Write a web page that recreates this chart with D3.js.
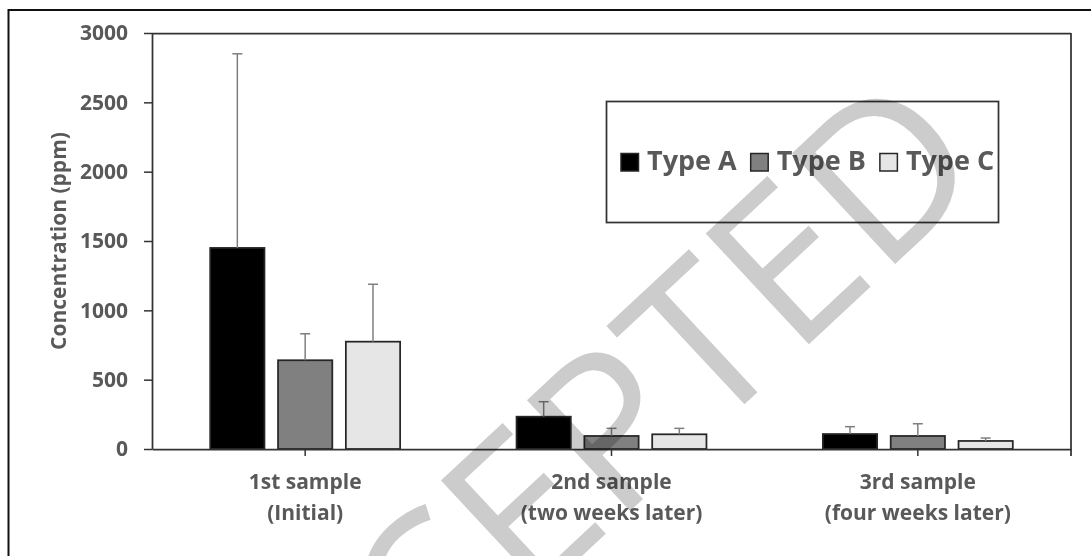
<!DOCTYPE html>
<html>
<head>
<meta charset="utf-8">
<script src="https://cdn.jsdelivr.net/npm/d3@7"></script>
<style>
  html, body { margin: 0; padding: 0; background: #fff; }
  svg { display: block; }
  text { font-family: "Open Sans", sans-serif; }
</style>
</head>
<body>
<svg id="chart" width="1091" height="556"></svg>
<script>
// ---- data ----
const categories = ["1st sample", "2nd sample", "3rd sample"];
const subLabels = ["(Initial)", "(two weeks later)", "(four weeks later)"];
const series = ["Type A", "Type B", "Type C"];
const typeA = [1450, 233, 108];
const typeAErr = [1400, 108, 53];
const typeB = [640, 94, 94];
const typeBErr = [191, 55, 88];
const typeC = [774, 106, 58];
const typeCErr = [414, 43, 21];
const yTicks = [0, 500, 1000, 1500, 2000, 2500, 3000];
const yTitle = "Concentration (ppm)";
const watermark = "ACCEPTED";

(function () {
const seriesValues = [typeA, typeB, typeC];
const seriesErrors = [typeAErr, typeBErr, typeCErr];
const colors = ["#000000", "#808080", "#e6e6e6"];

const rows = [];
categories.forEach((c, i) => {
  series.forEach((s, j) => {
    rows.push({ cat: c, ser: s, value: seriesValues[j][i], err: seriesErrors[j][i], color: colors[j] });
  });
});

// ---- layout ----
const svg = d3.select("#chart");
const pL = 152, pR = 1071, pT = 33, pB = 449;
const textColor = "#595959";
const lineColor = "#333333";

const y = d3.scaleLinear().domain([0, 3000]).range([pB, pT]);
const x0 = d3.scaleBand().domain(categories).range([pL, pR]).paddingInner(0.38).paddingOuter(0.19);
const x1 = d3.scaleBand().domain(series).range([0, x0.bandwidth()]).paddingInner(0.2);

// outer frame
svg.append("rect").attr("x", 8.5).attr("y", 10).attr("width", 1100).attr("height", 600)
  .attr("fill", "none").attr("stroke", "#111").attr("stroke-width", 2);

// plot box top & right
svg.append("line").attr("x1", pL).attr("x2", pR).attr("y1", pT + 0.5).attr("y2", pT + 0.5)
  .attr("stroke", lineColor).attr("stroke-width", 1.75);
svg.append("line").attr("x1", pR).attr("x2", pR).attr("y1", pT).attr("y2", pB + 7)
  .attr("stroke", lineColor).attr("stroke-width", 1.75);

// y axis
const yAxis = svg.append("g").attr("transform", `translate(${pL},0)`)
  .call(d3.axisLeft(y).tickValues(yTicks).tickFormat(d3.format("d"))
    .tickSize(8).tickSizeOuter(0).tickPadding(16));
yAxis.select(".domain").attr("stroke", lineColor).attr("stroke-width", 1.75);
yAxis.selectAll(".tick line").attr("stroke", lineColor).attr("stroke-width", 1.5);
yAxis.selectAll(".tick text").attr("fill", textColor).attr("font-size", 21)
  .attr("font-weight", "bold").attr("font-family", "Open Sans, sans-serif");

// bars
const g = svg.append("g");
g.selectAll("rect.bar").data(rows).join("rect").attr("class", "bar")
  .attr("x", d => x0(d.cat) + x1(d.ser))
  .attr("y", d => y(d.value))
  .attr("width", x1.bandwidth())
  .attr("height", d => y(0) - y(d.value))
  .attr("fill", d => d.color)
  .attr("stroke", "#262626").attr("stroke-width", 1.75);

// error bars
const eb = svg.append("g").attr("stroke", "#7f7f7f").attr("stroke-width", 1.5);
rows.forEach(d => {
  const cx = x0(d.cat) + x1(d.ser) + x1.bandwidth() / 2;
  eb.append("line").attr("x1", cx).attr("x2", cx).attr("y1", y(d.value)).attr("y2", y(d.value + d.err));
  eb.append("line").attr("x1", cx - 5).attr("x2", cx + 5).attr("y1", y(d.value + d.err)).attr("y2", y(d.value + d.err));
});

// x axis
const xAxis = svg.append("g").attr("transform", `translate(0,${pB})`)
  .call(d3.axisBottom(x0).tickSize(7).tickSizeOuter(0));
xAxis.select(".domain").attr("stroke", lineColor).attr("stroke-width", 1.75);
xAxis.selectAll(".tick line").attr("stroke", lineColor).attr("stroke-width", 1.5);
xAxis.selectAll(".tick text").remove();
xAxis.selectAll(".tick").each(function(d, i) {
  const t = d3.select(this).append("text").attr("fill", textColor).attr("font-size", 21)
    .attr("font-weight", "bold").attr("text-anchor", "middle");
  t.append("tspan").attr("x", 0).attr("y", 40).text(d);
  t.append("tspan").attr("x", 0).attr("y", 71).text(subLabels[i]);
});

// y title
svg.append("text").attr("transform", "translate(66,241) rotate(-90)")
  .attr("text-anchor", "middle").attr("fill", textColor).attr("font-size", 21)
  .attr("font-weight", "bold").text(yTitle);

// legend
const lg = svg.append("g");
lg.append("rect").attr("x", 606.5).attr("y", 101.5).attr("width", 392).attr("height", 121)
  .attr("fill", "#fff").attr("stroke", lineColor).attr("stroke-width", 1.75);
let lx = 621;
series.forEach((s, j) => {
  lg.append("rect").attr("x", lx).attr("y", 153.5).attr("width", 17.5).attr("height", 17.5)
    .attr("fill", colors[j]).attr("stroke", "#262626").attr("stroke-width", 1.5);
  const t = lg.append("text").attr("x", lx + 26).attr("y", 170).attr("fill", textColor)
    .attr("font-size", 27).attr("font-weight", "bold").text(s);
  lx = lx + 26 + t.node().getComputedTextLength() + 14;
});

// watermark
svg.append("text").attr("transform", "translate(614,526) rotate(-43)")
  .attr("text-anchor", "middle").attr("font-size", 212).attr("font-weight", "normal")
  .attr("font-family", "DejaVu Sans, sans-serif")
  .attr("fill", "#cccccc").style("mix-blend-mode", "multiply").text(watermark);
})();
</script>
</body>
</html>
